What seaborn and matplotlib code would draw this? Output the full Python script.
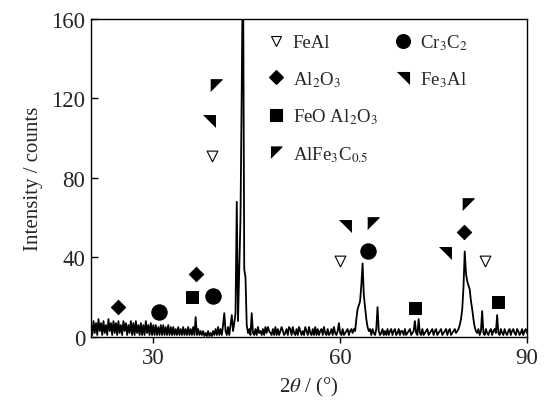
import numpy as np
import pandas as pd
import seaborn as sns
import matplotlib.pyplot as plt
from matplotlib.lines import Line2D

# 风格
sns.set(style='white')
plt.rcParams['font.family'] = ['Liberation Serif', 'DejaVu Serif']
plt.rcParams['mathtext.fontset'] = 'stix'

# XRD 谱线数据 (2θ 步长 0.2°, 20~90°)
two_theta = np.round(np.arange(20.0, 90.01, 0.2), 1)
intensity = [
    6, 1, 8, 2, 7, 1, 9, 3, 7, 1,         # 20
    8, 2, 6, 1, 9, 3, 7, 1, 8, 2,         # 22
    7, 1, 8, 2, 6, 1, 8, 3, 7, 1,         # 24
    6, 2, 8, 1, 7, 1, 8, 2, 6, 1,         # 26
    7, 1, 6, 1, 8, 2, 6, 1, 7, 1,         # 28
    6, 1, 6, 1, 5, 1, 6, 1, 6, 1,         # 30
    5, 1, 6, 1, 5, 1, 5, 1, 4, 1,         # 32
    5, 1, 4, 1, 5, 1, 4, 1, 5, 1,         # 34
    4, 1, 5, 1, 10, 1, 4, 1, 3, 1,        # 36
    3, 0.5, 2, 0.5, 3, 0.5, 2, 0.5, 3, 1, # 38
    4, 1, 5, 1, 4, 1, 6, 12, 3, 1,        # 40
    5, 1, 6, 11, 3, 7, 12, 68, 8, 33,     # 42
    60, 125, 200, 34, 30, 6, 2, 4, 1, 12, # 44
    2, 1, 4, 1, 5, 2, 3, 1, 4, 1,         # 46
    5, 2, 5, 3, 2, 1, 4, 1, 5, 1,         # 48
    4, 1, 3, 5, 3, 1, 2, 4, 1, 5,         # 50
    4, 1, 5, 2, 1, 4, 1, 5, 3, 1,         # 52
    3, 1, 5, 3, 1, 5, 2, 1, 4, 1,         # 54
    5, 1, 4, 1, 3, 4, 1, 5, 2, 1,         # 56
    4, 1, 2, 4, 1, 5, 2, 1, 3, 7,         # 58
    2, 1, 4, 1, 2, 3, 4, 1, 3, 4,         # 60
    2, 4, 3, 9, 14, 16, 18, 26, 37, 21,   # 62
    15, 9, 5, 3, 4, 1, 4, 2, 1, 4,        # 64
    15, 3, 1, 2, 4, 1, 3, 1, 4, 1,        # 66
    3, 4, 1, 3, 4, 1, 2, 4, 1, 3,         # 68
    3, 1, 4, 1, 2, 3, 4, 1, 2, 3,         # 70
    8, 2, 1, 9, 2, 1, 4, 1, 2, 3,         # 72
    4, 1, 2, 3, 4, 1, 3, 4, 1, 2,         # 74
    3, 4, 1, 2, 3, 4, 1, 3, 4, 1,         # 76
    2, 3, 4, 2, 3, 4, 6, 9, 14, 25,       # 78
    43, 32, 28, 26, 24, 18, 14, 9, 5, 3,  # 80
    2, 4, 1, 3, 13, 2, 1, 4, 2, 1,        # 82
    3, 4, 1, 3, 4, 2, 11, 2, 1, 4,        # 84
    2, 1, 4, 2, 1, 3, 4, 1, 3, 4,         # 86
    2, 1, 4, 3, 1, 2, 4, 1, 3, 4,         # 88
    2,                                    # 90
]
assert len(intensity) == len(two_theta)

# 物相标记 (2θ, 强度)
feal_x, feal_y = [39.5, 60.0, 83.2], [91, 38, 38]
al2o3_x, al2o3_y = [24.3, 36.9, 79.9], [15, 31.5, 53]
feo_x, feo_y = [36.2, 72.0, 85.3], [20, 14.5, 17.5]
alfec_x, alfec_y = [40.0, 65.3, 80.5], [127, 57.5, 67]
cr3c2_x, cr3c2_y = [30.9, 39.6, 64.5], [12.5, 20.5, 43.5]
fe3al_x, fe3al_y = [38.9, 60.8, 76.8], [108.5, 56, 42]

# 自定义三角形标记
tri_ul = [(-1, 1), (1, 1), (-1, -1)]   # ◤
tri_ur = [(-1, 1), (1, 1), (1, -1)]    # ◥

df = pd.DataFrame({'two_theta': two_theta, 'intensity': intensity})

fig = plt.figure(figsize=(5.45, 4.06), dpi=100)
ax = fig.add_axes([0.167, 0.1675, 0.80, 0.7835])

sns.lineplot(x='two_theta', y='intensity', data=df, ax=ax, color='black', linewidth=1.3)

sns.scatterplot(x=feal_x, y=feal_y, ax=ax, marker='v', s=60, color='white', edgecolor='black', linewidth=0.8, zorder=3)
sns.scatterplot(x=al2o3_x, y=al2o3_y, ax=ax, marker='D', s=55, color='black', edgecolor='black', zorder=3)
sns.scatterplot(x=feo_x, y=feo_y, ax=ax, marker='s', s=75, color='black', edgecolor='black', zorder=3)
sns.scatterplot(x=alfec_x, y=alfec_y, ax=ax, marker=tri_ul, s=70, color='black', edgecolor='black', zorder=3)
sns.scatterplot(x=cr3c2_x, y=cr3c2_y, ax=ax, marker='o', s=120, color='black', edgecolor='black', zorder=3)
sns.scatterplot(x=fe3al_x, y=fe3al_y, ax=ax, marker=tri_ur, s=70, color='black', edgecolor='black', zorder=3)

# 图例 (两列, 按列排列)
def h(marker, ms, fc='black'):
    return Line2D([], [], linestyle='none', marker=marker, markersize=ms,
                  markerfacecolor=fc, markeredgecolor='black', markeredgewidth=0.8)

blank = Line2D([], [], linestyle='none')
handles = [h('v', 7.5, 'white'), h('D', 7), h('s', 8), h(tri_ul, 8),
           h('o', 10), h(tri_ur, 8), blank, blank]
labels = ['FeAl', 'Al$_2$O$_3$', 'FeO Al$_2$O$_3$', 'AlFe$_3$C$_{0.5}$',
          'Cr$_3$C$_2$', 'Fe$_3$Al', '', '']
ax.legend(handles, labels, ncol=2, loc='upper left', bbox_to_anchor=(0.39, 0.982),
          frameon=False, fontsize=13.5, labelspacing=0.95, handlelength=0.8,
          handletextpad=0.5, columnspacing=0.95, borderaxespad=0)

# 坐标轴
ax.set_xlim(20, 90)
ax.set_ylim(0, 160)
ax.set_xticks([30, 60, 90])
ax.set_yticks([0, 40, 80, 120, 160])
ax.set_xlabel('2$\\theta$ / (°)', fontsize=15, labelpad=5)
ax.set_ylabel('Intensity / counts', fontsize=15, labelpad=6)
ax.tick_params(axis='x', direction='out', length=4, width=1, labelsize=16.5, pad=3, color='black', bottom=True)
ax.tick_params(axis='y', direction='in', length=5, width=1, labelsize=16.5, pad=4, color='black', left=True)

for spine in ax.spines.values():
    spine.set_visible(True)
    spine.set_color('black')
    spine.set_linewidth(1.0)

fig.savefig('out.png', dpi=100)
